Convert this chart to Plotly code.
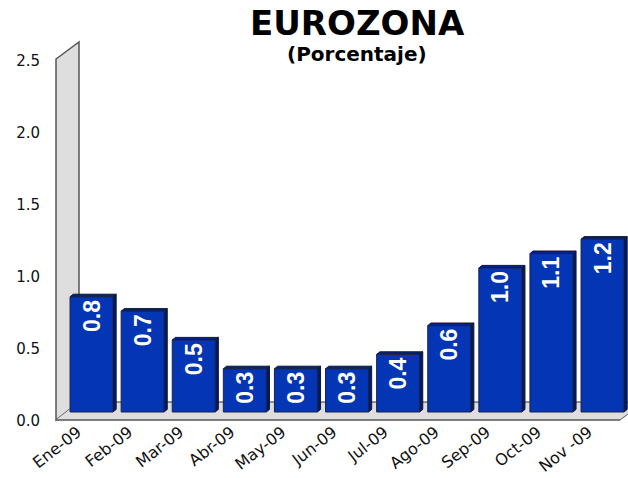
import plotly.graph_objects as go

months = ["Ene-09", "Feb-09", "Mar-09", "Abr-09", "May-09", "Jun-09", "Jul-09", "Ago-09", "Sep-09", "Oct-09", "Nov -09"]
values = [0.8, 0.7, 0.5, 0.3, 0.3, 0.3, 0.4, 0.6, 1.0, 1.1, 1.2]
y_ticks = [0, 0.5, 1.0, 1.5, 2.0, 2.5]

W, H = 628, 478
L, R, T, B = 56, 628, 49, 429
AXIS_PX = 419
TICK0_PX = 420.5
BAR0_PX = 412
PITCH = 51.1
X0 = 91.5
UNIT = 144.0
DX = 3.2 / PITCH
DY = 2.6 / UNIT
HALF = 0.42
BLUE = "#0335B5"
SIDE = "#001A66"
TOP = "#00237F"
EDGE = "#1B2348"
WALL = "#DEDEDE"
WALL_LINE = "#555555"

px = lambda x: (x - L) / (R - L)
py = lambda y: (B - y) / (B - T)


def poly(pts):
    return "M " + " L ".join(f"{px(a):.5f} {py(b):.5f}" for a, b in pts) + " Z"


shapes = [
    dict(type="path", xref="paper", yref="paper", layer="below", path=poly([(56, 59), (79, 42), (79, 402), (56, 420)]),
         fillcolor=WALL, line=dict(color=WALL_LINE, width=1.5)),
    dict(type="path", xref="paper", yref="paper", layer="below", path=poly([(56, 420), (79, 402), (628, 402), (628, 414), (620, 420)]),
         fillcolor=WALL, line=dict(color=WALL, width=0)),
    dict(type="line", xref="paper", yref="paper", layer="below", x0=px(56), y0=py(420), x1=px(620), y1=py(420), line=dict(color=WALL_LINE, width=1.5)),
    dict(type="line", xref="paper", yref="paper", layer="below", x0=px(620), y0=py(420), x1=px(628), y1=py(414), line=dict(color=WALL_LINE, width=1)),
    dict(type="line", xref="paper", yref="paper", layer="below", x0=px(79), y0=py(402), x1=px(628), y1=py(402), line=dict(color="#333333", width=1)),
]
for i, v in enumerate(values):
    r = i + HALF
    l = i - HALF
    shapes.append(dict(type="path", xref="x", yref="y2", layer="below",
                       path=f"M {r} 0 L {r+DX} {DY} L {r+DX} {v+DY} L {r} {v} Z",
                       fillcolor=SIDE, line=dict(color="#101830", width=1)))
    shapes.append(dict(type="path", xref="x", yref="y2", layer="below",
                       path=f"M {l} {v} L {l+DX} {v+DY} L {r+DX} {v+DY} L {r} {v} Z",
                       fillcolor=TOP, line=dict(color="#101830", width=1)))

fig = go.Figure()
fig.add_trace(go.Scatter(x=[0], y=[0], mode="markers", marker=dict(opacity=0), hoverinfo="skip", showlegend=False))
fig.add_trace(go.Bar(
    x=list(range(len(values))), y=values, yaxis="y2", width=2 * HALF,
    marker=dict(color=BLUE, line=dict(color=EDGE, width=1)),
    text=[f"{v:.1f}" for v in values], textposition="inside", insidetextanchor="end",
    textangle=-90, constraintext="none", cliponaxis=False,
    textfont=dict(family="Liberation Sans", size=23, color="white", weight="bold"),
    showlegend=False,
))

fig.update_layout(
    width=W, height=H, autosize=False,
    margin=dict(l=L, r=W - R, t=T, b=H - B, pad=0),
    paper_bgcolor="white", plot_bgcolor="rgba(0,0,0,0)",
    font=dict(family="DejaVu Sans", color="#111111"),
    shapes=shapes,
    xaxis=dict(range=[(L - X0) / PITCH, (R - X0) / PITCH], tickmode="array",
               tickvals=[i - 0.27 for i in range(len(months))], ticktext=months,
               tickangle=-38, tickfont=dict(size=16), showgrid=False, zeroline=False,
               showline=False, ticks="", anchor="free", position=py(AXIS_PX),
               automargin=False),
    yaxis=dict(range=[(TICK0_PX - B) / UNIT, (TICK0_PX - T) / UNIT], tickmode="array", tickvals=y_ticks,
               ticktext=[f"{t:.1f}" for t in y_ticks], tickfont=dict(size=15),
               showgrid=False, zeroline=False, showline=False, ticks="outside",
               ticklen=12, tickcolor="rgba(0,0,0,0)", automargin=False),
    yaxis2=dict(range=[(BAR0_PX - B) / UNIT, (BAR0_PX - T) / UNIT], overlaying="y", side="left",
                visible=False, automargin=False),
    bargap=0.16,
    annotations=[
        dict(text="<b>EUROZONA</b>", xref="paper", yref="paper", x=px(357), y=py(23.5), xanchor="center", yanchor="middle",
             showarrow=False, font=dict(family="DejaVu Sans", size=34, color="#000000")),
        dict(text="<b>(Porcentaje)</b>", xref="paper", yref="paper", x=px(357), y=py(54), xanchor="center", yanchor="middle",
             showarrow=False, font=dict(family="DejaVu Sans", size=20, color="#000000")),
    ],
)
fig.write_html("out.html", config=dict(displayModeBar=False),
               post_script="document.body.style.margin='0';document.body.style.overflow='hidden';")
